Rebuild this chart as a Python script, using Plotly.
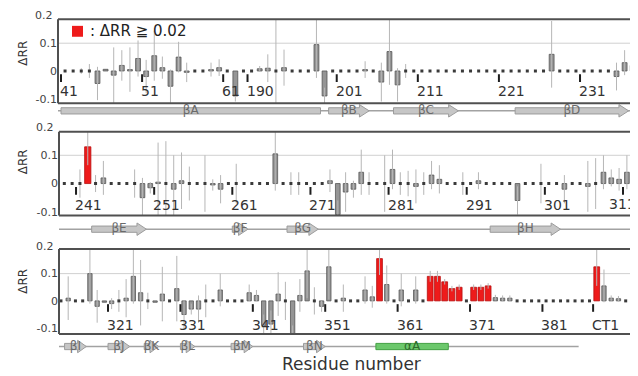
import plotly.graph_objects as go

# page body has an 8px margin: the figure starts at (8, 8) in the 638x376 window
OFF = 8
FW, FH = 638 - OFF, 376 - OFF

# ---------------- data ----------------
# Panel 1
p1_residues = [str(r) for r in range(41, 64)] + [str(r) for r in range(190, 239)]
p1_values = [0, 0, 0, 0, -0.045, 0.006, -0.015, 0.02, 0.005, 0.045,
             -0.02, 0.055, 0.012, -0.055, 0.05, -0.005, 0, 0, 0.005, 0.012,
             0, -0.09, 0,
             0, 0.008, 0.01, 0, 0.012, 0, 0, 0, 0.095, -0.09,
             0, 0, 0, 0, 0.005, 0, -0.04, 0.07, -0.05, 0, 0,
             0, 0, 0, 0, 0, 0, 0, 0, 0, 0, 0, 0, 0, 0, 0, 0,
             0.06, 0, 0, 0, 0, 0, 0, 0, -0.02, 0.03, 0.02, 0.025]
p1_errors = [0, 0, 0.01, 0.025, 0.06, 0, 0.1, 0.055, 0.08, 0.065,
             0.06, 0.09, 0.04, 0.06, 0.055, 0.035, 0, 0, 0.025, 0.03,
             0, 0.02, 0,
             0, 0.01, 0.05, 0.2, 0.065, 0, 0, 0, 0.12, 0.03,
             0, 0, 0, 0, 0.03, 0, 0.07, 0.12, 0.06, 0.025, 0,
             0, 0, 0, 0, 0, 0, 0, 0, 0, 0, 0, 0, 0, 0, 0, 0,
             0.12, 0, 0, 0, 0, 0, 0, 0, 0.05, 0.045, 0.02, 0.03]
p1_red = []
p1_ticks = ["41", "51", "61", "190", "201", "211", "221", "231"]
p1_ss_names = ["βA", "βB", "βC", "βD"]
p1_ss_start = ["41", "200", "208", "223"]
p1_ss_end = ["198", "204", "215", "236"]
p1_ss_kind = ["band", "strand", "strand", "strand"]
p1_base = ["41", "238"]

# Panel 2
p2_residues = [str(r) for r in range(239, 313)]
p2_values = [0, 0, 0, 0.13, 0, 0.02, 0, 0, 0, 0,
             -0.05, -0.015, 0.005, 0, -0.02, 0.01, 0, 0, 0, -0.005,
             -0.02, 0, 0, 0, 0, 0, 0, 0.105, 0, 0,
             0, 0, 0, 0, 0.01, -0.11, -0.03, -0.02, 0.04, 0,
             0, 0, 0.05, 0, 0, -0.01, 0, 0.03, 0.015, 0,
             0, 0, 0, 0.01, 0, 0, 0, 0, -0.06, 0,
             0, 0, 0, 0, -0.02, 0, 0, -0.01, 0, 0.04,
             0.02, 0.015, 0.04, 0.01]
p2_errors = [0, 0, 0.05, 0.065, 0.03, 0.06, 0, 0, 0, 0.05,
             0.07, 0.02, 0.14, 0.15, 0.12, 0.1, 0.06, 0, 0.1, 0.02,
             0.05, 0, 0.07, 0, 0, 0, 0, 0.13, 0, 0.04,
             0.04, 0, 0, 0, 0.04, 0.05, 0.07, 0.03, 0.08, 0.04,
             0, 0.1, 0.07, 0.04, 0.045, 0.06, 0.04, 0.05, 0.05, 0,
             0, 0.04, 0, 0.03, 0, 0, 0, 0, 0.05, 0,
             0, 0.07, 0, 0, 0.05, 0, 0, 0.09, 0.09, 0.06,
             0.03, 0.04, 0.06, 0.02]
p2_red = ["242"]
p2_ticks = ["241", "251", "261", "271", "281", "291", "301", "311"]
p2_ss_names = ["βE", "βF", "βG", "βH", ""]
p2_ss_start = ["243", "261", "268", "294", "312"]
p2_ss_end = ["249", "262", "271", "302", "312"]
p2_ss_kind = ["strand", "strand", "strand", "strand", "band"]
p2_base = ["239", "312"]

# Panel 3
p3_residues = [str(r) for r in range(314, 388)] + ["CT1", "CT2", "CT3", "CT4", "CT5", "CT6"]
p3_values = [0, 0.01, 0, 0, 0.1, -0.02, -0.005, -0.01, 0, 0.01,
             0.09, 0.03, 0, -0.005, 0.025, 0, 0.045, -0.05, -0.03, -0.03,
             0, 0, 0.04, 0, 0, 0, 0.03, 0.02, -0.09, -0.085,
             0.025, 0, -0.12, 0.02, 0.11, 0, -0.02, 0.125, 0, 0.01,
             0, 0, 0.04, 0.015, 0.155, 0.06, 0, 0.04, 0, 0.04,
             0, 0.09, 0.09, 0.07, 0.045, 0.05, 0, 0.05, 0.05, 0.055,
             0.012, 0.01, 0.01, 0, 0, 0, 0, 0, 0, 0,
             0, 0, 0, 0,
             0.125, 0.055, 0.01, 0.008, 0, 0]
p3_errors = [0, 0.08, 0, 0, 0.11, 0.06, 0, 0.02, 0.04, 0.07,
             0.1, 0.12, 0.03, 0, 0.1, 0, 0.12, 0.05, 0.02, 0.05,
             0.06, 0, 0.06, 0, 0, 0, 0.03, 0.02, 0.04, 0.05,
             0.08, 0.07, 0.03, 0.06, 0.1, 0.05, 0.02, 0.12, 0, 0.05,
             0, 0, 0.05, 0.04, 0.06, 0.07, 0, 0.06, 0, 0.05,
             0, 0.02, 0.02, 0.01, 0.01, 0.01, 0, 0.01, 0.01, 0.01,
             0.01, 0.01, 0.01, 0, 0, 0, 0, 0, 0, 0,
             0, 0, 0, 0,
             0.07, 0.06, 0.01, 0.01, 0, 0]
p3_red = ["358", "365", "366", "367", "368", "369", "371", "372", "373", "CT1"]
p3_ticks = ["321", "331", "341", "351", "361", "371", "381", "CT1"]
p3_ss_names = ["βI", "βJ", "βK", "βL", "βM", "βN", "αA"]
p3_ss_start = ["315", "321", "326", "331", "338", "348", "358"]
p3_ss_end = ["317", "323", "327", "332", "340", "350", "367"]
p3_ss_kind = ["strand", "strand", "strand", "strand", "strand", "strand", "helix"]
p3_base = ["314", "385"]

y_tick_vals = [-0.1, 0, 0.1]
y_tick_text = ["-0.1", "0", "0.1"]
y_top_label = "0.2"

# ---------------- geometry / style (window pixels) ----------------
panels = [
    dict(res=p1_residues, val=p1_values, err=p1_errors, red=p1_red, ticks=p1_ticks,
         ssn=p1_ss_names, sss=p1_ss_start, sse=p1_ss_end, ssk=p1_ss_kind, base=p1_base,
         left=58, top=19.3, bottom=104, zero=71.5, scale=280, xr=[-0.87, 70.65],
         track=111.7, lab_shift=-20, title_y=54),
    dict(res=p2_residues, val=p2_values, err=p2_errors, red=p2_red, ticks=p2_ticks,
         ssn=p2_ss_names, sss=p2_ss_start, sse=p2_ss_end, ssk=p2_ss_kind, base=p2_base,
         left=59, top=132.7, bottom=217.3, zero=185, scale=285, xr=[-0.68, 73.42],
         track=231, lab_shift=-21, title_y=163.5),
    dict(res=p3_residues, val=p3_values, err=p3_errors, red=p3_red, ticks=p3_ticks,
         ssn=p3_ss_names, sss=p3_ss_start, sse=p3_ss_end, ssk=p3_ss_kind, base=p3_base,
         left=59, top=251, bottom=336.7, zero=303.3, scale=275, xr=[-0.27, 79.7],
         track=349.3, lab_shift=-24, title_y=284),
]

FONT = "DejaVu Sans"
LABEL_SIZE = 14
GRAY_BAR = "#959595"
GRAY_EDGE = "#555555"
RED = "#ee1b1b"
RED_EDGE = "#b80f0f"
ERR = "#b6b6b6"
FRAME = "#505050"
RIGHT = 638


def pxx(x):
    return (x - OFF) / FW


def py(y):
    return 1 - (y - OFF) / FH


fig = go.Figure()
layout = dict(width=FW, height=FH, margin=dict(l=0, r=0, t=0, b=0),
              paper_bgcolor="white", plot_bgcolor="white", showlegend=False,
              barmode="overlay", font=dict(family=FONT, color="#333"))
shapes, annotations = [], []

for k, p in enumerate(panels):
    n = k + 1
    t = n + 3
    xs = "" if n == 1 else str(n)
    xa, ya = "x" + xs, "y" + xs
    xt, yt = "x" + str(t), "y" + str(t)
    res, val, err, red = p["res"], p["val"], p["err"], p["red"]
    idx = {r: i for i, r in enumerate(res)}
    dom_x = [pxx(p["left"]), 1.0]
    ytop = (p["zero"] - p["top"]) / p["scale"]
    ybot = -(p["bottom"] - p["zero"]) / p["scale"]

    layout["xaxis" + xs] = dict(domain=dom_x, range=p["xr"], anchor=ya, showgrid=False,
                                zeroline=False, showticklabels=False, ticks="",
                                showline=False)
    layout["yaxis" + xs] = dict(domain=[py(p["bottom"]), py(p["top"])], range=[ybot, ytop],
                                anchor=xa, showgrid=False, zeroline=False,
                                tickvals=y_tick_vals, ticktext=y_tick_text, ticks="",
                                tickfont=dict(size=11, color="#444"), showline=False)
    layout["xaxis" + str(t)] = dict(domain=dom_x, range=p["xr"], anchor=yt, visible=False)
    layout["yaxis" + str(t)] = dict(domain=[py(p["track"] + 7), py(p["track"] - 7)],
                                    range=[-1, 1], anchor=xt, visible=False)

    shapes.append(dict(type="line", xref=xa + " domain", x0=0, x1=1, yref=ya,
                       y0=0.1, y1=0.1, line=dict(color="#d0d0d0", width=1), layer="below"))
    for (x0, y0, x1, y1) in [(p["left"], p["top"], 640, p["top"]),
                             (p["left"], p["top"], p["left"], p["bottom"]),
                             (p["left"], p["bottom"], 640, p["bottom"])]:
        shapes.append(dict(type="line", xref="paper", yref="paper",
                           x0=pxx(x0), x1=pxx(x1), y0=py(y0), y1=py(y1),
                           line=dict(color=FRAME, width=2), layer="above"))
    annotations.append(dict(x=pxx(p["left"] - 3), y=py(p["zero"] - 0.2 * p["scale"]),
                            xref="paper", yref="paper", text=y_top_label, showarrow=False,
                            xanchor="right", yanchor="middle",
                            font=dict(size=11, color="#444")))

    gray_i = [i for i, r in enumerate(res) if val[i] != 0 and r not in red]
    red_i = [i for i, r in enumerate(res) if r in red]
    zero_i = [i for i, r in enumerate(res) if val[i] == 0 and r not in red]

    fig.add_trace(go.Scatter(x=zero_i, y=[val[i] for i in zero_i], mode="markers",
                             marker=dict(symbol="square", size=3, color="#3a3a3a"),
                             error_y=dict(type="data", array=[err[i] for i in zero_i],
                                          color=ERR, thickness=1, width=0),
                             xaxis=xa, yaxis=ya, hoverinfo="skip"))
    fig.add_trace(go.Bar(x=gray_i, y=[val[i] for i in gray_i], width=0.6,
                         marker=dict(color=GRAY_BAR, line=dict(color=GRAY_EDGE, width=0.8)),
                         error_y=dict(type="data", array=[err[i] for i in gray_i],
                                      color=ERR, thickness=1, width=0),
                         xaxis=xa, yaxis=ya, hoverinfo="skip"))
    if red_i:
        fig.add_trace(go.Bar(x=red_i, y=[val[i] for i in red_i], width=0.8,
                             marker=dict(color=RED, line=dict(color=RED_EDGE, width=0.8)),
                             error_y=dict(type="data", array=[err[i] for i in red_i],
                                          color=ERR, thickness=1, width=0),
                             xaxis=xa, yaxis=ya, hoverinfo="skip"))

    # residue ticks and labels
    tx, ty = [], []
    x0r, x1r = p["xr"]
    for lab in p["ticks"]:
        c = idx[lab] - 0.5
        tx += [c, c, None]
        ty += [-0.012, -0.04, None]
        tick_px = p["left"] + (c - x0r) / (x1r - x0r) * (RIGHT - p["left"])
        est_w = len(lab) * 0.64 * LABEL_SIZE
        if tick_px - 3 + est_w > RIGHT - 1:
            # keep a label at the right edge fully inside the picture
            annotations.append(dict(x=1, y=py(p["zero"] - p["lab_shift"]), xref="paper",
                                    yref="paper", text=lab, showarrow=False,
                                    xanchor="right", yanchor="middle",
                                    font=dict(size=LABEL_SIZE, color="#333")))
        else:
            annotations.append(dict(x=c, y=0, xref=xa, yref=ya, text=lab, showarrow=False,
                                    xanchor="left", yanchor="middle", xshift=-3,
                                    yshift=p["lab_shift"],
                                    font=dict(size=LABEL_SIZE, color="#333")))
    fig.add_trace(go.Scatter(x=tx, y=ty, mode="lines", line=dict(color="#1e1e1e", width=2),
                             xaxis=xa, yaxis=ya, hoverinfo="skip"))

    # secondary-structure track
    b0, b1 = idx[p["base"][0]] - 1.0, idx[p["base"][1]] + 0.5
    fig.add_trace(go.Scatter(x=[b0, b1], y=[0, 0], mode="lines",
                             line=dict(color="#a2a2a2", width=1.5),
                             xaxis=xt, yaxis=yt, hoverinfo="skip"))
    for name, s_lab, e_lab, kind in zip(p["ssn"], p["sss"], p["sse"], p["ssk"]):
        s = idx[s_lab] - 0.5
        e = idx[e_lab] + 0.5
        h, hh, hl = 0.45, 0.9, 1.2
        if kind == "strand":
            px_ = [s, e - hl, e - hl, e, e - hl, e - hl, s, s]
            py_ = [-h, -h, -hh, 0, hh, h, h, -h]
            fill, edge, tc = "#c6c6c6", "#9c9c9c", "#6a6a6a"
        elif kind == "helix":
            px_ = [s, e, e, s, s]
            py_ = [-h, -h, h, h, -h]
            fill, edge, tc = "#6cc86c", "#44a044", "#2c6a2c"
        else:
            px_ = [s, e, e, s, s]
            py_ = [-h, -h, h, h, -h]
            fill, edge, tc = "#c6c6c6", "#9c9c9c", "#6a6a6a"
        fig.add_trace(go.Scatter(x=px_, y=py_, mode="lines", fill="toself",
                                 fillcolor=fill, line=dict(color=edge, width=1),
                                 xaxis=xt, yaxis=yt, hoverinfo="skip"))
        if name:
            fig.add_trace(go.Scatter(x=[(s + e) / 2], y=[0], mode="text", text=[name],
                                     textfont=dict(size=12, color=tc, family=FONT),
                                     textposition="middle center",
                                     xaxis=xt, yaxis=yt, hoverinfo="skip"))

    annotations.append(dict(x=pxx(23), y=py(p["title_y"]), xref="paper", yref="paper",
                            text="ΔRR", textangle=-90, showarrow=False,
                            xanchor="center", yanchor="middle",
                            font=dict(size=12, color="#333")))

shapes.append(dict(type="rect", xref="paper", yref="paper", x0=pxx(72), x1=pxx(83),
                   y0=py(37), y1=py(26), fillcolor=RED, line=dict(width=0)))
annotations.append(dict(x=pxx(88), y=py(31.5), xref="paper", yref="paper",
                        text=": ΔRR ≧ 0.02", showarrow=False, xanchor="left",
                        yanchor="middle", font=dict(size=15, color="#222")))
annotations.append(dict(x=pxx(352), y=py(367), xref="paper", yref="paper",
                        text="Residue number", showarrow=False, xanchor="center",
                        yanchor="middle", font=dict(size=17, color="#333")))

layout["shapes"] = shapes
layout["annotations"] = annotations
fig.update_layout(**layout)
fig.write_html("out.html")
